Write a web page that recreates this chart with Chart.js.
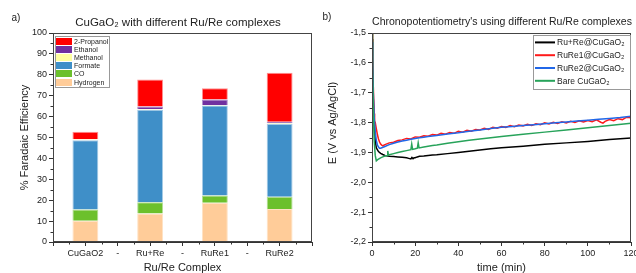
<!DOCTYPE html>
<html><head><meta charset="utf-8">
<script src="https://cdn.jsdelivr.net/npm/chart.js@4.4.1/dist/chart.umd.min.js"></script>
<style>
html,body{margin:0;padding:0;background:#fff;overflow:hidden;width:636px;height:273px;}
#wrap{position:relative;width:636px;height:273px;overflow:hidden;}
#c1{position:absolute;left:0;top:0;width:320px;height:273px;}
#c2{position:absolute;left:318px;top:0;width:330px;height:273px;}
</style></head><body>
<div id="wrap"><canvas id="c1" width="320" height="273"></canvas><canvas id="c2" width="330" height="273"></canvas></div>
<script>
// ---------- Panel a) data ----------
const categories = ['', 'CuGaO2', '-', 'Ru+Re', '-', 'RuRe1', '-', 'RuRe2', ''];
const hydrogen = [null, 10.2, null, 13.6, null, 18.8, null, 15.8, null];
const co       = [null, 5.4,  null, 5.4,  null, 3.4,  null, 5.8,  null];
const formate  = [null, 33.1, null, 44.3, null, 43.1, null, 34.9, null];
const methanol = [null, 0.5,  null, 0.3,  null, 0.2,  null, 0.3,  null];
const ethanol  = [null, 0.0,  null, 1.2,  null, 2.7,  null, 0.7,  null];
const propanol = [null, 3.5,  null, 13.0, null, 5.4,  null, 23.5, null];
const feTicks = [0, 10, 20, 30, 40, 50, 60, 70, 80, 90, 100];

// ---------- Panel b) data ----------
const tBlack = [0,0.3,0.6,1,1.5,2,3,4,5,6,8,10,12,14,16,17,18,18.5,19,19.5,20,21,22,24,26,28,30,35,40,45,50,55,60,70,80,90,100,110,120];
const eBlack = [-1.52,-1.62,-1.72,-1.80,-1.86,-1.885,-1.897,-1.903,-1.907,-1.910,-1.913,-1.914,-1.915,-1.916,-1.918,-1.920,-1.922,-1.917,-1.921,-1.918,-1.918,-1.915,-1.913,-1.912,-1.910,-1.909,-1.908,-1.904,-1.900,-1.896,-1.892,-1.888,-1.884,-1.879,-1.873,-1.868,-1.863,-1.857,-1.852];

const tRed = [0,0.3,0.6,1,1.2,1.5,2,2.5,3,3.5,4,4.5,5,5.5,6,8,10,12,14,16,18,20,22,24,26,28,30,32,34,36,38,40,42,44,46,48,50,52,54,56,58,60,62,64,66,68,70,72,74,76,78,80,82,84,86,88,90,92,94,96,98,100,102,104,106,107,108,110,112,114,116,118,120];
const eRed = [-1.50,-1.58,-1.68,-1.77,-1.795,-1.80,-1.82,-1.84,-1.855,-1.865,-1.872,-1.876,-1.878,-1.876,-1.874,-1.868,-1.866,-1.860,-1.858,-1.853,-1.855,-1.848,-1.849,-1.844,-1.846,-1.840,-1.842,-1.836,-1.839,-1.833,-1.836,-1.829,-1.832,-1.826,-1.829,-1.823,-1.825,-1.819,-1.823,-1.816,-1.819,-1.813,-1.816,-1.810,-1.814,-1.808,-1.811,-1.806,-1.810,-1.804,-1.807,-1.801,-1.805,-1.799,-1.803,-1.797,-1.801,-1.796,-1.800,-1.794,-1.798,-1.793,-1.797,-1.791,-1.799,-1.802,-1.796,-1.790,-1.794,-1.787,-1.790,-1.782,-1.784];

const tBlue = [0,0.3,0.6,1,1.5,2,2.5,3,3.5,4,6,8,10,12,14,16,18,20,22,24,26,28,30,35,40,45,50,55,60,65,70,75,80,85,90,95,100,105,110,115,120];
const eBlue = [-1.53,-1.60,-1.70,-1.78,-1.83,-1.86,-1.875,-1.882,-1.886,-1.886,-1.880,-1.874,-1.869,-1.865,-1.862,-1.859,-1.856,-1.853,-1.851,-1.849,-1.847,-1.845,-1.843,-1.838,-1.834,-1.829,-1.825,-1.820,-1.816,-1.813,-1.810,-1.807,-1.804,-1.801,-1.798,-1.795,-1.792,-1.789,-1.786,-1.783,-1.779];

const tGreen = [0,0.3,0.6,1,1.5,2,2.5,3,4,5,6,7,7.3,7.6,8,10,12,14,16,18,18.4,18.8,20,21,21.4,21.8,24,26,28,30,35,40,45,50,55,60,70,80,90,100,110,120];
const eGreen = [-1.50,-1.62,-1.75,-1.86,-1.91,-1.928,-1.925,-1.922,-1.918,-1.915,-1.912,-1.910,-1.895,-1.909,-1.908,-1.904,-1.900,-1.897,-1.894,-1.891,-1.872,-1.890,-1.888,-1.886,-1.868,-1.885,-1.882,-1.879,-1.877,-1.875,-1.869,-1.864,-1.859,-1.855,-1.851,-1.847,-1.839,-1.832,-1.825,-1.817,-1.810,-1.802];

const timeTicks = [0, 20, 40, 60, 80, 100, 120];
const eTicks = [-2.2, -2.1, -2.0, -1.9, -1.8, -1.7, -1.6, -1.5];

const FONT = "'Liberation Sans', Arial, sans-serif";
const pts = (t, e) => t.map((x, i) => ({x: x, y: e[i]}));

// ---------- plugins ----------
const frame = {
  id: 'frame',
  afterDraw(chart) {
    const {ctx, chartArea: a} = chart;
    ctx.save();
    ctx.strokeStyle = '#444'; ctx.lineWidth = 1;
    ctx.strokeRect(Math.round(a.left) + 0.5, Math.round(a.top) + 0.5, Math.round(a.right - a.left) - 1, Math.round(a.bottom - a.top) - 1);
    ctx.restore();
  }
};
const minorTicks = {
  id: 'minorTicks',
  afterDraw(chart, args, opts) {
    const ctx = chart.ctx;
    ctx.save(); ctx.strokeStyle = '#333'; ctx.lineWidth = 1;
    const xs = chart.scales.x, ys = chart.scales.y;
    (opts.xVals || []).forEach(v => {
      const px = Math.round(xs.getPixelForValue(v)) + 0.5;
      ctx.beginPath(); ctx.moveTo(px, ys.bottom); ctx.lineTo(px, ys.bottom + 2.5); ctx.stroke();
    });
    (opts.yVals || []).forEach(v => {
      const py = Math.round(ys.getPixelForValue(v)) + 0.5;
      ctx.beginPath(); ctx.moveTo(xs.left, py); ctx.lineTo(xs.left - 2.5, py); ctx.stroke();
    });
    ctx.restore();
  }
};
const legendBox = {
  id: 'legendBox',
  afterDraw(chart, args, o) {
    const ctx = chart.ctx, a = chart.chartArea;
    const x0 = Math.round(a.left + o.dx), y0 = Math.round(a.top + o.dy);
    ctx.save();
    ctx.fillStyle = '#fff'; ctx.fillRect(x0, y0, o.w, o.h);
    ctx.strokeStyle = '#999'; ctx.lineWidth = 1; ctx.strokeRect(x0 + 0.5, y0 + 0.5, o.w, o.h);
    ctx.font = o.font; ctx.textBaseline = 'middle'; ctx.textAlign = 'left';
    o.order.forEach((di, k) => {
      const ds = chart.data.datasets[di];
      const cy = y0 + o.pad + o.row * (k + 0.5);
      if (o.kind === 'box') {
        ctx.fillStyle = ds.backgroundColor;
        ctx.fillRect(x0 + o.sx, Math.round(cy - o.sh / 2), o.sw, o.sh);
      } else {
        ctx.strokeStyle = ds.borderColor; ctx.lineWidth = 2;
        ctx.beginPath(); ctx.moveTo(x0 + o.sx, cy); ctx.lineTo(x0 + o.sx + o.sw, cy); ctx.stroke();
      }
      ctx.fillStyle = '#222';
      ctx.fillText(ds.label, x0 + o.tx, cy + 0.5);
    });
    ctx.restore();
  }
};
const texts = {
  id: 'texts',
  afterDraw(chart, args, o) {
    const ctx = chart.ctx;
    o.items.forEach(t => {
      ctx.save();
      ctx.font = t.font; ctx.fillStyle = '#222';
      ctx.textAlign = t.align || 'center'; ctx.textBaseline = 'middle';
      ctx.translate(t.x, t.y);
      if (t.rot) ctx.rotate(t.rot);
      ctx.fillText(t.text, 0, 0);
      ctx.restore();
    });
  }
};

// ---------- Panel a) ----------
function barDs(label, data, bg, bc) {
  return {label, data, backgroundColor: bg, borderColor: bc, borderWidth: 1, barPercentage: 1.0, categoryPercentage: 0.8};
}
new Chart(document.getElementById('c1'), {
  type: 'bar',
  data: {
    labels: categories,
    datasets: [
      barDs('Hydrogen', hydrogen, '#ffcc99', '#ffe2c4'),
      barDs('CO', co, '#6cc02c', '#b4de94'),
      barDs('Formate', formate, '#3f8fc8', '#a6cbe6'),
      barDs('Methanol', methanol, '#ffffa0', '#fffff0'),
      barDs('Ethanol', ethanol, '#7030a0', '#b090cc'),
      barDs('2-Propanol', propanol, '#ff0000', '#ff9090')
    ]
  },
  plugins: [frame, minorTicks, legendBox, texts],
  options: {
    responsive: false, animation: false, devicePixelRatio: 1,
    layout: {padding: {top: 33, right: 8, left: 0, bottom: 0}},
    plugins: {
      legend: {display: false}, tooltip: {enabled: false},
      minorTicks: {xVals: [0.5, 1.5, 2.5, 3.5, 4.5, 5.5, 6.5, 7.5], yVals: [5, 15, 25, 35, 45, 55, 65, 75, 85, 95]},
      legendBox: {kind: 'box', dx: 2, dy: 3, w: 54, h: 51, pad: 1, row: 8.2, sx: 1, sw: 16, sh: 7, tx: 19, font: '7px ' + FONT, order: [5, 4, 3, 2, 1, 0]},
      texts: {items: [
        {text: 'a)', x: 16, y: 18, font: '10px ' + FONT},
        {text: 'CuGaO\u2082 with different Ru/Re complexes', x: 178, y: 23, font: '11.5px ' + FONT}
      ]}
    },
    scales: {
      x: {
        stacked: true, offset: false,
        grid: {display: true, drawOnChartArea: false, drawTicks: true, tickLength: 4, color: '#333', offset: false},
        border: {display: true, color: '#333'},
        ticks: {autoSkip: false, maxRotation: 0, padding: 2, color: '#222', font: {family: FONT, size: 9}},
        title: {display: true, text: 'Ru/Re Complex', color: '#222', font: {family: FONT, size: 11}, padding: {top: 0, bottom: -2}},
        afterFit(s) { s.height = 31; }
      },
      y: {
        stacked: true, min: 0, max: 100,
        afterBuildTicks(s) { s.ticks = feTicks.map(v => ({value: v})); },
        grid: {display: true, drawOnChartArea: false, drawTicks: true, tickLength: 4, color: '#333'},
        border: {display: true, color: '#333'},
        ticks: {padding: 2, color: '#222', font: {family: FONT, size: 9}},
        title: {display: true, text: '% Faradaic Efficiency', color: '#222', font: {family: FONT, size: 11}, padding: {top: 18, bottom: 0}},
        afterFit(s) { s.width = 53; }
      }
    }
  }
});

// ---------- Panel b) ----------
function lineDs(label, data, color, order) {
  return {label, data, borderColor: color, backgroundColor: color, borderWidth: 1.5, pointRadius: 0, tension: 0, fill: false, order};
}
new Chart(document.getElementById('c2'), {
  type: 'line',
  data: {
    datasets: [
      lineDs('Ru+Re@CuGaO\u2082', pts(tBlack, eBlack), '#000000', 3),
      lineDs('RuRe1@CuGaO\u2082', pts(tRed, eRed), '#ff1a1a', 2),
      lineDs('RuRe2@CuGaO\u2082', pts(tBlue, eBlue), '#2167e8', 1),
      lineDs('Bare CuGaO\u2082', pts(tGreen, eGreen), '#27a35a', 0)
    ]
  },
  plugins: [frame, minorTicks, legendBox, texts],
  options: {
    responsive: false, animation: false, devicePixelRatio: 1,
    layout: {padding: {top: 33, right: 17, left: 0, bottom: 0}},
    plugins: {
      legend: {display: false}, tooltip: {enabled: false},
      minorTicks: {xVals: [10, 30, 50, 70, 90, 110], yVals: [-2.15, -2.05, -1.95, -1.85, -1.75, -1.65, -1.55]},
      legendBox: {kind: 'line', dx: 161, dy: 2, w: 97, h: 54, pad: 1, row: 12.8, sx: 2, sw: 20, tx: 24, font: '8.5px ' + FONT, order: [0, 1, 2, 3]},
      texts: {items: [
        {text: 'b)', x: 9, y: 17, font: '10px ' + FONT},
        {text: "Chronopotentiometry's using different Ru/Re complexes", x: 184, y: 22, font: '10.5px ' + FONT},
        {text: 'E (V vs Ag/AgCl)', x: 15, y: 123, rot: -Math.PI / 2, font: '11px ' + FONT}
      ]}
    },
    scales: {
      x: {
        type: 'linear', min: 0, max: 120,
        afterBuildTicks(s) { s.ticks = timeTicks.map(v => ({value: v})); },
        grid: {display: true, drawOnChartArea: false, drawTicks: true, tickLength: 4, color: '#333'},
        border: {display: true, color: '#333'},
        ticks: {maxRotation: 0, padding: 2, color: '#222', font: {family: FONT, size: 9}},
        title: {display: true, text: 'time (min)', color: '#222', font: {family: FONT, size: 11}, padding: {top: 0, bottom: -2}},
        afterFit(s) { s.height = 31; }
      },
      y: {
        type: 'linear', min: -2.2, max: -1.5,
        afterBuildTicks(s) { s.ticks = eTicks.map(v => ({value: v})); },
        grid: {display: true, drawOnChartArea: false, drawTicks: true, tickLength: 4, color: '#333'},
        border: {display: true, color: '#333'},
        ticks: {padding: 2, color: '#222', font: {family: FONT, size: 9}, callback: v => Number(v).toFixed(1).replace('.', ',')},
        title: {display: false},
        afterFit(s) { s.width = 54; }
      }
    }
  }
});
</script>
</body></html>
